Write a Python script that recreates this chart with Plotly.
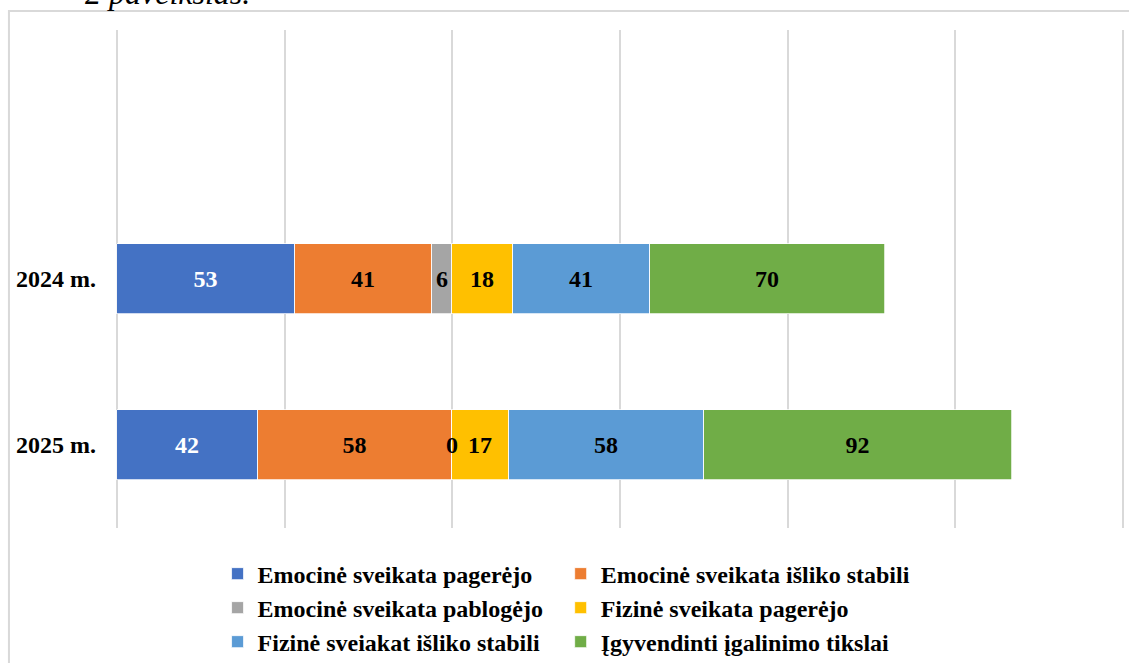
import plotly.graph_objects as go

metai = ['2025 m.', '2024 m.']
serijos = [
    'Emocinė sveikata pagerėjo',
    'Emocinė sveikata išliko stabili',
    'Emocinė sveikata pablogėjo',
    'Fizinė sveikata pagerėjo',
    'Fizinė sveiakat išliko stabili',
    'Įgyvendinti įgalinimo tikslai',
]
emoc_pager = [42, 53]
emoc_stab = [58, 41]
emoc_pablog = [0, 6]
fiz_pager = [17, 18]
fiz_stab = [58, 41]
tikslai = [92, 70]

reiksmes = [emoc_pager, emoc_stab, emoc_pablog, fiz_pager, fiz_stab, tikslai]
spalvos = ['#4472C4', '#ED7D31', '#A5A5A5', '#FFC000', '#5B9BD5', '#70AD47']
teksto_spalvos = ['white', 'black', 'black', 'black', 'black', 'black']

serif = 'Liberation Serif'
dydis = 24

fig = go.Figure()
for i, (vardas, y_vals) in enumerate(zip(serijos, reiksmes)):
    rodyti_teksta = i != 2  # pilkos serijos etiketes dedam atskirai
    fig.add_trace(go.Bar(
        name=vardas,
        y=metai,
        x=y_vals,
        orientation='h',
        width=0.416,
        marker=dict(color=spalvos[i], line=dict(color='#ffffff', width=0.75)),
        text=[str(v) for v in y_vals] if rodyti_teksta else None,
        textposition='inside',
        insidetextanchor='middle',
        textangle=0,
        insidetextfont=dict(family=serif, size=dydis, color=teksto_spalvos[i], weight='bold'),
        legend='legend' if i == 0 else f'legend{i + 1}',
        hoverinfo='x+name',
    ))

# pilkos serijos reiksmes (ir 0) - anotacijos
legenda = []
for j, m in enumerate(metai):
    pries = emoc_pager[j] + emoc_stab[j]
    legenda.append(dict(
        x=pries + emoc_pablog[j] / 2, y=m,
        text=str(emoc_pablog[j]),
        showarrow=False,
        font=dict(family=serif, size=dydis, color='black', weight='bold'),
    ))

legenda.append(dict(
    xref='paper', yref='paper', x=-0.0317, y=1.034,
    xanchor='left', yanchor='bottom',
    text='<i>2 paveikslas.</i>', showarrow=False,
    font=dict(family=serif, size=32, color='black'),
))

# legenda: 2 stulpeliai x 3 eilutes, kiekvienas irasas atskira legenda
stulp_x = [0.1927, 0.4966]
eil_y = [0.1342, 0.0829, 0.0316]
legendos = {}
for i in range(len(serijos)):
    raktas = 'legend' if i == 0 else f'legend{i + 1}'
    legendos[raktas] = dict(
        orientation='h', xanchor='left', yanchor='middle',
        xref='container', yref='container',
        x=stulp_x[i % 2], y=eil_y[i // 2],
        font=dict(family=serif, size=dydis, color='black', weight='bold'),
        bgcolor='rgba(0,0,0,0)', itemclick=False, itemdoubleclick=False,
    )

fig.update_layout(
    template='none',
    width=1129, height=663,
    margin=dict(l=115, r=4, t=30, b=135),
    paper_bgcolor='white', plot_bgcolor='white',
    barmode='stack',
    bargap=0,
    xaxis=dict(range=[-0.596, 300.596], tickvals=[0, 50, 100, 150, 200, 250, 300],
               showticklabels=False, ticks='',
               showgrid=True, gridcolor='#d9d9d9', gridwidth=1.5,
               zeroline=False, showline=False, fixedrange=True, automargin=False),
    yaxis=dict(range=[-0.5, 2.5], showgrid=False, zeroline=False, ticks='',
               tickfont=dict(family=serif, size=dydis, color='black', weight='bold'),
               ticklabelstandoff=18, fixedrange=True, automargin=False),
    annotations=legenda,
    uniformtext=dict(minsize=10, mode='show'),
    showlegend=True,
    shapes=[dict(type='rect', xref='paper', yref='paper',
                 x0=-0.105, x1=1.05, y0=-0.5, y1=1.0382,
                 line=dict(color='#d9d9d9', width=2), layer='below')],
    **legendos,
)

fig.write_html('out.html', config={'displayModeBar': False},
               post_script="document.body.style.margin='0';")
